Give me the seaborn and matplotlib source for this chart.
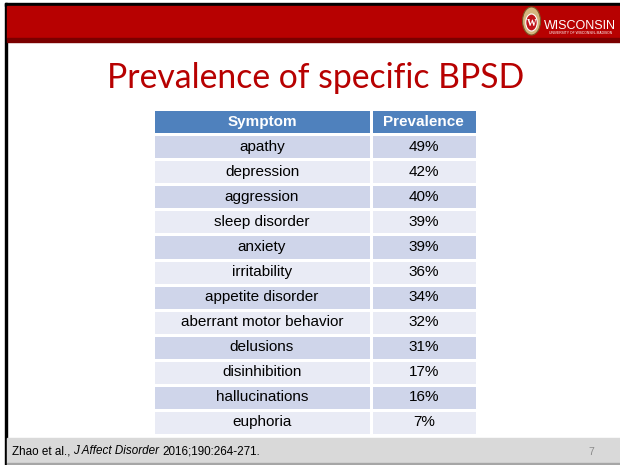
import numpy as np
import pandas as pd
import matplotlib.pyplot as plt
import seaborn as sns
from matplotlib.colors import ListedColormap
from matplotlib.patches import Rectangle, Ellipse

# table content
symptoms = ['apathy', 'depression', 'aggression', 'sleep disorder', 'anxiety',
            'irritability', 'appetite disorder', 'aberrant motor behavior',
            'delusions', 'disinhibition', 'hallucinations', 'euphoria']
prevalence = [49, 42, 40, 39, 39, 36, 34, 32, 31, 17, 16, 7]
col_names = ['Symptom', 'Prevalence']

title = 'Prevalence of specific BPSD'
citation = ['Zhao et al.,', 'J Affect Disorder', '2016;190:264-271.']
page_no = '7'

sns.set_theme(style='white')
plt.rcParams['font.family'] = ['Liberation Sans', 'DejaVu Sans']

W, H = 620, 465
fig = plt.figure(figsize=(6.2, 4.65), dpi=100)
fig.patch.set_facecolor('white')

# slide background drawn in pixel coordinates
bg = fig.add_axes([0, 0, 1, 1])
bg.set_xlim(0, W)
bg.set_ylim(H, 0)
bg.axis('off')

red = '#B70101'
bg.add_patch(Rectangle((5, 3), W, 3, color='black'))
bg.add_patch(Rectangle((5, 3), 2, H, color='black'))
bg.add_patch(Rectangle((7, 6), W, 32, color=red))
bg.add_patch(Rectangle((7, 38), W, 4.5, color='#7A0000'))

# footer band
bg.add_patch(Rectangle((7, 438), W, 25, color='#D9D9D9'))
bg.add_patch(Rectangle((7, 463), W, 2, color='#A6A6A6'))

# logo: crest + wordmark
bg.add_patch(Ellipse((531.5, 21), 18, 28, facecolor='#D5B57E', edgecolor='#7A5A2A', lw=0.8))
bg.add_patch(Ellipse((531.5, 22.5), 11.5, 17, facecolor='#C0141B', edgecolor='white', lw=0.8))
bg.text(531.5, 23, 'W', color='white', fontsize=7, fontweight='bold',
        ha='center', va='center', family='Liberation Serif')
bg.text(544, 29, 'WISCONSIN', color='white', fontsize=9, ha='left',
        va='baseline', family='Liberation Sans')
bg.text(581, 33.5, 'UNIVERSITY OF WISCONSIN\u2013MADISON', color='white',
        fontsize=2.4, ha='center', va='center')

# title
bg.text(315.5, 88, title, color=red, fontsize=24.3, ha='center', va='baseline',
        family='Lato')

# table as two single-column heatmaps
codes = np.array([0] + [1 + (i % 2) for i in range(len(symptoms))])
cmap = ListedColormap(['#4F81BD', '#CFD5EA', '#E9EBF5'])
sym_labels = np.array([col_names[0]] + symptoms).reshape(-1, 1)
prev_labels = np.array([col_names[1]] + [f'{p}%' for p in prevalence]).reshape(-1, 1)

top, bottom = 109.5, 434.5
cols = [(153, 371, sym_labels), (371, 476.5, prev_labels)]
for x0, x1, labels in cols:
    ax = fig.add_axes([x0 / W, (H - bottom) / H, (x1 - x0) / W, (bottom - top) / H])
    df = pd.DataFrame(codes.reshape(-1, 1))
    sns.heatmap(df, ax=ax, cmap=cmap, vmin=-0.5, vmax=2.5, cbar=False,
                annot=labels, fmt='', linewidths=2, linecolor='white',
                annot_kws={'color': 'black', 'fontsize': 11},
                xticklabels=False, yticklabels=False)
    ax.texts[0].set_color('white')
    ax.texts[0].set_fontweight('bold')

# footer citation with italic journal name
fig.canvas.draw()
renderer = fig.canvas.get_renderer()
x = 12
styles = ['normal', 'italic', 'normal']
for part, st in zip(citation, styles):
    t = bg.text(x, 451, part, fontsize=8.4, style=st, color='black',
                ha='left', va='center')
    bb = t.get_window_extent(renderer=renderer)
    x += bb.width + 3
bg.text(591, 452, page_no, fontsize=7.5, color='#8C8C8C', ha='center', va='center')

fig.savefig('out.png', dpi=100, facecolor='white')
